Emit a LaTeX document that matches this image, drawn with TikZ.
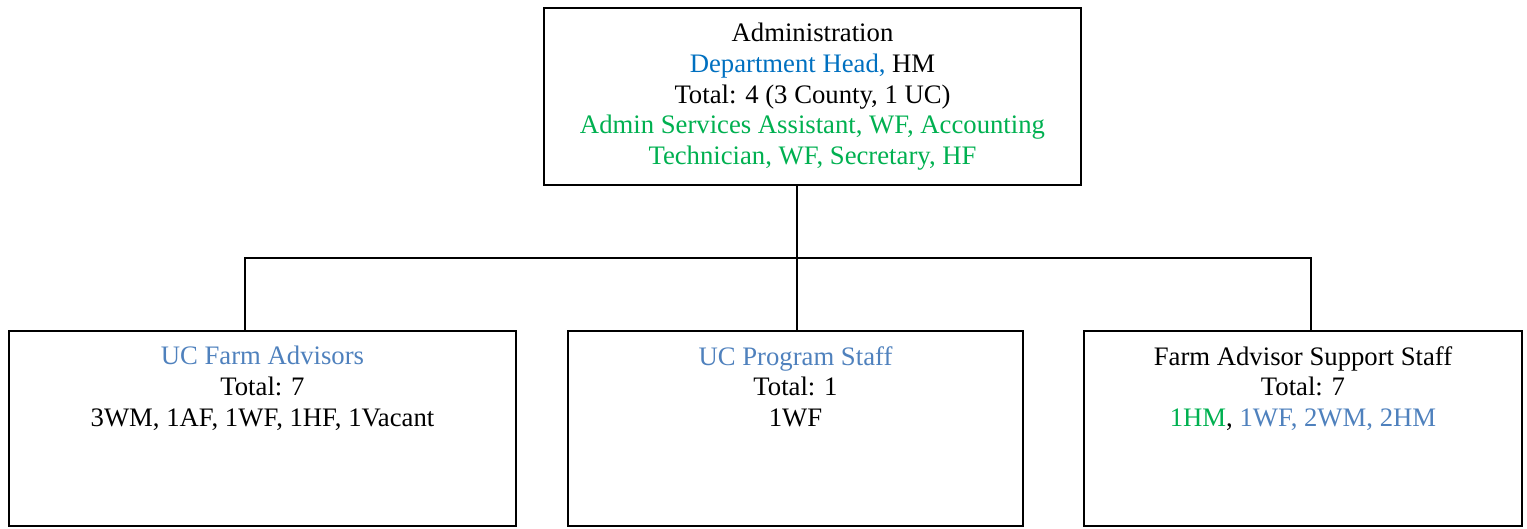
\documentclass[tikz,border=0pt]{standalone}
\usepackage{fontspec}
\setmainfont{Liberation Serif}
\definecolor{dblue}{HTML}{0070C0}
\definecolor{lgreen}{HTML}{00B050}
\definecolor{sblue}{HTML}{4F81BD}
\begin{document}
\begin{tikzpicture}[x=1pt,y=-1pt,
  box/.style={draw=black, line width=2pt, inner sep=0pt, anchor=north west},
  txt/.style={anchor=north, inner sep=0pt, align=center, font=\fontsize{26.7}{30.7}\selectfont},
  conn/.style={draw=black, line width=1.7pt}]
\useasboundingbox (0,0) rectangle (1527,528);
\node[box, minimum width=537pt, minimum height=177pt] (admin) at (543,7) {};
\node[box, minimum width=507pt, minimum height=195pt] (left) at (8,330) {};
\node[box, minimum width=455pt, minimum height=195pt] (mid) at (567,330) {};
\node[box, minimum width=438pt, minimum height=195pt] (right) at (1083,330) {};
\node[txt] (admintxt) at ([yshift=-16pt]admin.north) {Administration\\
  \textcolor{dblue}{Department Head,} HM\\
  Total: 4 (3 County, 1 UC)\\
  \textcolor{lgreen}{Admin Services Assistant, WF, Accounting}\\
  \textcolor{lgreen}{Technician, WF, Secretary, HF}};
\node[txt] (lefttxt) at ([yshift=-16pt]left.north) {\textcolor{sblue}{UC Farm Advisors}\\
  Total: 7\\
  3WM, 1AF, 1WF, 1HF, 1Vacant};
\node[txt] (midtxt) at ([yshift=-16pt]mid.north) {\textcolor{sblue}{UC Program Staff}\\
  Total: 1\\
  1WF};
\node[txt] (righttxt) at ([yshift=-16pt]right.north) {Farm Advisor Support Staff\\
  Total: 7\\
  \textcolor{lgreen}{1HM}, \textcolor{sblue}{1WF, 2WM, 2HM}};
\coordinate (bus) at (797,258);
\coordinate (busL) at (245,258);
\coordinate (busR) at (1311,258);
\draw[conn] (bus |- admin.south) -- (bus |- mid.north);
\draw[conn] (busL |- left.north) -- (busL) -- (busR) -- (busR |- right.north);
\end{tikzpicture}
\end{document}
